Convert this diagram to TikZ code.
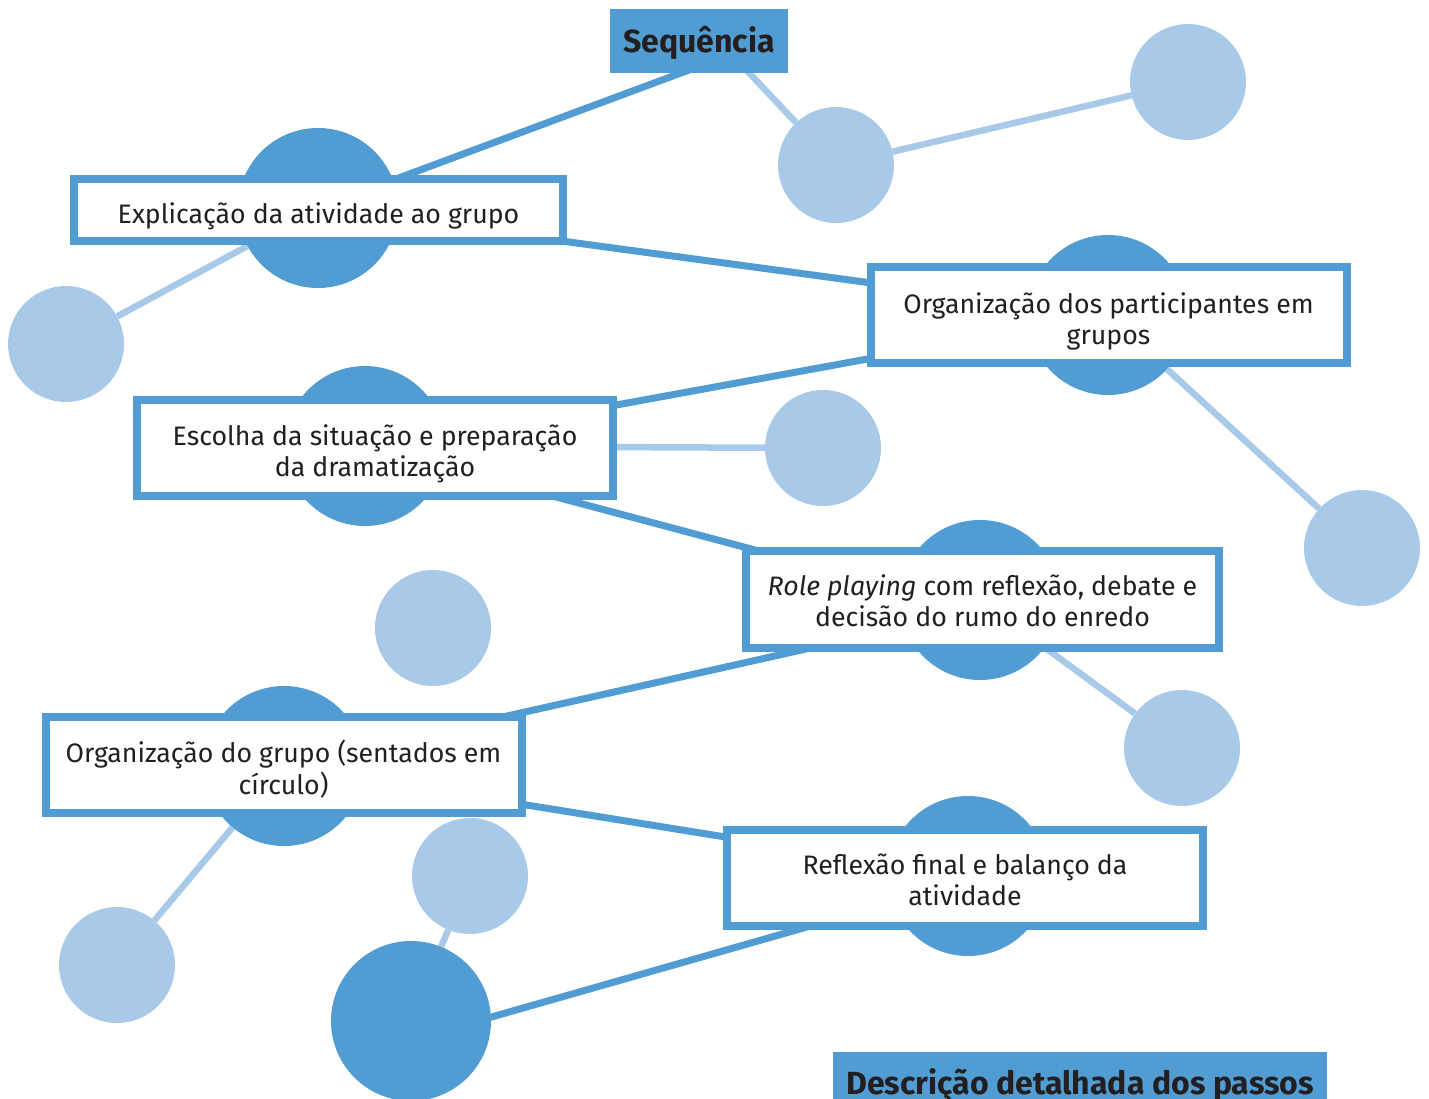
\documentclass[tikz,border=0pt]{standalone}
\usepackage{fontspec}
\setmainfont{Fira Sans}
\usetikzlibrary{backgrounds,calc}
\definecolor{dk}{RGB}{80,156,211}
\definecolor{lt}{RGB}{168,202,232}
\definecolor{tx}{RGB}{35,31,32}
\newcommand{\bxt}[2][-12.5pt]{\raisebox{#1}[0pt][0pt]{\begin{tabular}{@{}c@{}}#2\end{tabular}}}
\begin{document}
\begin{tikzpicture}[x=1pt,y=-1pt,
  dkc/.style={circle,fill=dk,minimum size=160pt,inner sep=0pt},
  ltc/.style={circle,fill=lt,minimum size=116pt,inner sep=0pt},
  stepbox/.style={draw=dk,line width=8pt,fill=white,text=tx,
    font=\fontsize{26.7}{31}\selectfont,inner sep=0pt,minimum width=476pt,minimum height=96pt},
  headbox/.style={fill=dk,text=tx,inner sep=0pt,font=\fontsize{32}{36}\selectfont\bfseries},
  dline/.style={draw=dk,line width=7pt},
  lline/.style={draw=lt,line width=6.5pt}]
\useasboundingbox (0,0) rectangle (1429,1099);
\clip (0,0) rectangle (1429,1099);

% light circles
\node[ltc] (L1) at (836,165) {};
\node[ltc] (L2) at (1188,82) {};
\node[ltc] (L3) at (66,344) {};
\node[ltc] (L4) at (823,448) {};
\node[ltc] (L5) at (1362,548) {};
\node[ltc] (L6) at (433,628) {};
\node[ltc] (L7) at (1182,748) {};
\node[ltc] (L8) at (117,965) {};
\node[ltc] (L9) at (470,876) {};

% dark circles
\node[dkc] (c1) at (318,208) {};
\node[dkc] (c2) at (1108,315) {};
\node[dkc] (c3) at (365,446) {};
\node[dkc] (c4) at (980,600) {};
\node[dkc] (c5) at (284,766) {};
\node[dkc] (c6) at (968,876) {};
\node[dkc] (D) at (411,1021) {};

% boxes
\node[stepbox,minimum width=489pt,minimum height=62pt] (b1) at (318.5,210) {\bxt[-13.5pt]{Explicação da atividade ao grupo}};
\node[stepbox] (b2) at (1108.5,315) {\bxt[-14pt]{Organização dos participantes em\\grupos}};
\node[stepbox] (b3) at (375,448) {\bxt[-13pt]{Escolha da situação e preparação\\da dramatização}};
\node[stepbox,minimum width=473pt,minimum height=97pt] (b4) at (982.5,599.5) {\bxt[-12pt]{\textit{Role playing} com reflexão, debate e\\decisão do rumo do enredo}};
\node[stepbox] (b5) at (283.5,765) {\bxt[-13pt]{Organização do grupo (sentados em\\círculo)}};
\node[stepbox] (b6) at (965,878) {\bxt[-12pt]{Reflexão final e balanço da\\atividade}};

% headings
\node[headbox,minimum width=178pt,minimum height=64pt,text height=23pt,text depth=0pt] (title) at (699,41) {Sequência};
\node[headbox,anchor=north west,minimum width=494pt,text height=42pt,text depth=20pt] (desc) at (833,1052) {Descrição detalhada dos passos};

\coordinate (t1) at ($(title.center)+(68,0)$);
\coordinate (t2) at ($(title.center)+(20,0)$);
\coordinate (c3a) at ($(c3.center)+(0,5)$);
\coordinate (c4a) at ($(c4.center)+(0,10)$);
\coordinate (c6a) at ($(c6.center)+(0,5)$);
\coordinate (dE) at ($(D.center)+(70,-1)$);

\begin{scope}[on background layer]
  \draw[lline] (t2) -- (L1);
  \draw[lline] (L1) -- (L2);
  \draw[lline] (c1) -- (L3);
  \draw[lline] (c2) -- (L5);
  \draw[lline] (c3) -- (L4);
  \draw[lline] (c4) -- (L7);
  \draw[lline] (c5) -- (L8);
  \draw[lline] (L9) -- (D);
  \draw[dline] (t1) -- (c1);
  \draw[dline] (c1) -- (c2);
  \draw[dline] (c2) -- (c3a);
  \draw[dline] (c3) -- (c4a);
  \draw[dline] (c4a) -- (c5);
  \draw[dline] (c5) -- (c6);
  \draw[dline] (c6a) -- (dE);
\end{scope}
\end{tikzpicture}
\end{document}
